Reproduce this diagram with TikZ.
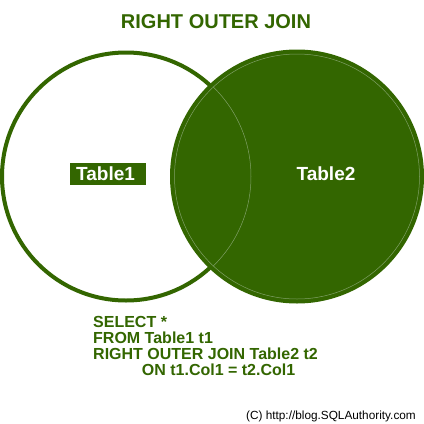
\documentclass[tikz,border=0pt]{standalone}
\usepackage{fontspec}
\setmainfont{Liberation Sans}
\definecolor{dg}{HTML}{336600}
\definecolor{thinl}{HTML}{7FA066}
\begin{document}
\begin{tikzpicture}[x=1pt,y=-1pt,
  sqlline/.style={anchor=base west, inner sep=0pt, text=dg, font=\fontsize{16}{16}\selectfont\bfseries},
  tname/.style={text=white, font=\fontsize{19}{19}\selectfont\bfseries, inner sep=0pt}]
\useasboundingbox (0,0) rectangle (424,424);
\fill[white] (0,0) rectangle (424,424);
\begin{scope}
  \clip (0,0) rectangle (424,424);
  % left circle
  \draw[dg, line width=4pt] (126,176.5) circle (124);
  % right circle
  \fill[dg] (297,176.5) circle (127);
  \draw[thinl, line width=0.5pt] (297,176.5) circle (122.5);
  \clip (297,176.5) circle (123);
  \draw[thinl, line width=0.5pt] (126,176.5) circle (125);
\end{scope}
% titles
\node[text=dg, font=\fontsize{20}{20}\selectfont\bfseries, inner sep=0pt] (title) at (216,22) {RIGHT OUTER JOIN};
\node[fill=dg, tname, anchor=west, inner xsep=6pt, text width=64pt, minimum height=22pt, align=left] (t1) at (70,174) {Table1};
\node[tname] (t2) at (326,174) {Table2};
% SQL
\node[sqlline] (s1) at (93,327) {SELECT *};
\node[sqlline] (s2) at (93,343) {FROM Table1 t1};
\node[sqlline] (s3) at (93,359) {RIGHT OUTER JOIN Table2 t2};
\node[sqlline] (s4) at (141.7,375) {ON t1.Col1 = t2.Col1};
\node[anchor=base east, inner sep=0pt, font=\fontsize{11.8}{12}\selectfont] (copy) at (416,419) {(C) http://blog.SQLAuthority.com};
\end{tikzpicture}
\end{document}
